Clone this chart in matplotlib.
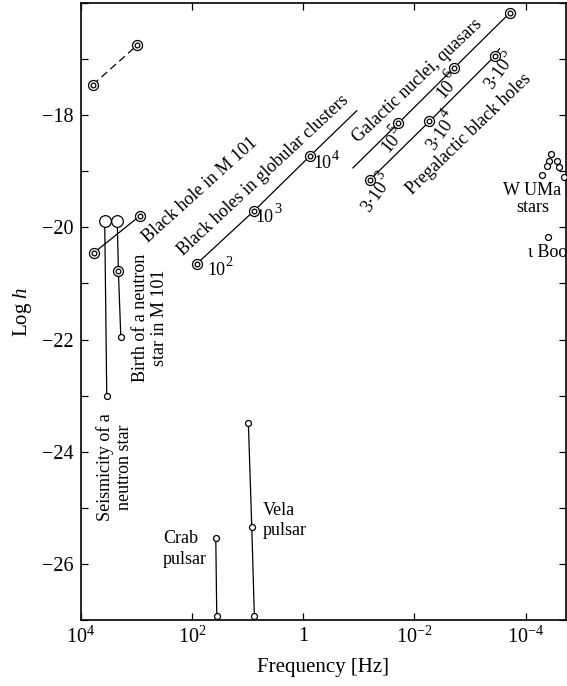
import math
import matplotlib
matplotlib.use("Agg")
import matplotlib.pyplot as plt
from matplotlib.ticker import FixedLocator, NullLocator, MultipleLocator
from matplotlib.textpath import TextPath
from matplotlib.font_manager import FontProperties

plt.rcParams["font.family"] = ["Liberation Serif", "DejaVu Serif"]
plt.rcParams["mathtext.fontset"] = "custom"
plt.rcParams["mathtext.rm"] = "Liberation Serif"
plt.rcParams["mathtext.it"] = "Liberation Serif:italic"
plt.rcParams["mathtext.default"] = "regular"

# ---- source data: frequency [Hz] and log10 of strain amplitude h ----
dashed_f = [6.1e3, 9.6e2]
dashed_h = [-17.46, -16.75]

m101_bh_f = [5.75e3, 8.5e2]
m101_bh_h = [-20.45, -19.79]

seismic_f = [3.7e3, 3.4e3]
seismic_h = [-19.88, -23.0]

birth_f = [2.2e3, 2.1e3, 1.9e3]
birth_h = [-19.88, -20.78, -21.95]

glob_f = [82.0, 7.55, 0.743]
glob_h = [-20.65, -19.70, -18.72]
glob_masses = [("10", "2"), ("10", "3"), ("10", "4")]
glob_tail_f = 0.109
glob_tail_h = -17.92

galnuc_f = [1.94e-2, 1.91e-3, 1.95e-4]
galnuc_h = [-18.14, -17.15, -16.18]
galnuc_masses = [("10", "5"), ("10", "6")]
galnuc_start_f = 0.128
galnuc_start_h = -18.94

pregal_f = [6.27e-2, 5.37e-3, 3.64e-4]
pregal_h = [-19.15, -18.11, -16.95]
pregal_masses = [("3·10", "3"), ("3·10", "4"), ("3·10", "5")]

crab_f = [37.3, 35.8]
crab_h = [-25.53, -26.93]

vela_f = [9.68, 8.41, 7.55]
vela_h = [-23.49, -25.34, -26.93]

wuma_f = [3.48e-5, 3.89e-5, 2.75e-5, 4.16e-5, 2.57e-5, 5.12e-5, 2.09e-5]
wuma_h = [-18.69, -18.81, -18.81, -18.90, -18.93, -19.07, -19.10]

iboo_f = [3.94e-5]
iboo_h = [-20.17]

x_ticks = [1e4, 1e2, 1.0, 1e-2, 1e-4]
x_tick_labels = ["$10^{4}$", "$10^{2}$", "1", "$10^{-2}$", "$10^{-4}$"]
y_ticks = [-18, -20, -22, -24, -26]

# ---- figure ----
fig = plt.figure(figsize=(5.67, 6.86), dpi=100)
ax = fig.add_axes([0.1423, 0.0962, 0.8557, 0.8994])
ax.set_xscale("log")
ax.set_xlim(1e4, 1.9e-5)
ax.set_ylim(-27, -16)

LW = 0.9
FS = 13
FONT = FontProperties(family="Liberation Serif")


def dbl(xs, ys):
    ax.plot(xs, ys, "o", ms=7.2, mfc="white", mec="black", mew=LW, zorder=4)
    ax.plot(xs, ys, "o", ms=3.4, mfc="white", mec="black", mew=LW, zorder=5)


def small(xs, ys, ms=4.3):
    ax.plot(xs, ys, "o", ms=ms, mfc="white", mec="black", mew=LW, zorder=4,
            clip_on=False)


def big(xs, ys):
    ax.plot(xs, ys, "o", ms=8.4, mfc="white", mec="black", mew=LW, zorder=4)


# dashed pair at top left
ax.plot(dashed_f, dashed_h, color="black", lw=LW, ls=(0, (6, 3.5)))
dbl(dashed_f, dashed_h)

# black hole in M 101
ax.plot(m101_bh_f, m101_bh_h, color="black", lw=LW)
dbl(m101_bh_f, m101_bh_h)

# seismicity of a neutron star
ax.plot(seismic_f, seismic_h, color="black", lw=LW)
big(seismic_f[:1], seismic_h[:1])
small(seismic_f[1:], seismic_h[1:])

# birth of a neutron star in M 101
ax.plot(birth_f, birth_h, color="black", lw=LW)
big(birth_f[:1], birth_h[:1])
dbl(birth_f[1:2], birth_h[1:2])
small(birth_f[2:], birth_h[2:])

# black holes in globular clusters
ax.plot(glob_f + [glob_tail_f], glob_h + [glob_tail_h], color="black", lw=LW)
dbl(glob_f, glob_h)

# galactic nuclei, quasars
ax.plot([galnuc_start_f] + galnuc_f, [galnuc_start_h] + galnuc_h,
        color="black", lw=LW)
dbl(galnuc_f, galnuc_h)

# pregalactic black holes
ax.plot(pregal_f, pregal_h, color="black", lw=LW)
dbl(pregal_f, pregal_h)

# pulsars
ax.plot(crab_f, crab_h, color="black", lw=LW)
small(crab_f, crab_h)
ax.plot(vela_f, vela_h, color="black", lw=LW)
small(vela_f, vela_h)

# W UMa stars and iota Boo
small(wuma_f, wuma_h)
small(iboo_f, iboo_h)


# ---- annotations ----
def label(x, y, s, rot=0.0, ha="center", va="center", size=FS, **kw):
    ax.text(x, y, s, rotation=rot, rotation_mode="anchor", ha=ha, va=va,
            fontsize=size, **kw)


def text_width(s, size):
    return TextPath((0, 0), s, size=size, prop=FONT).get_extents().width


def power_label(x, y, base, expo, rot=0.0, size=FS):
    """Base and raised exponent, centred as a whole on (x, y)."""
    esize = size * 0.8
    wb = text_width(base, size)
    we = text_width(expo, esize)
    gap = 0.8
    total = wb + gap + we
    c, s = math.cos(math.radians(rot)), math.sin(math.radians(rot))
    a = -total / 2 + wb / 2
    ax.annotate(base, (x, y), xytext=(a * c, a * s), textcoords="offset points",
                rotation=rot, rotation_mode="anchor", ha="center", va="center",
                fontsize=size)
    b = -total / 2 + wb + gap
    r = 0.42 * size
    ax.annotate(expo, (x, y), xytext=(b * c - r * s, b * s + r * c),
                textcoords="offset points", rotation=rot,
                rotation_mode="anchor", ha="left", va="center",
                fontsize=esize)


label(73, -19.34, "Black hole in M 101", rot=42)
label(5.2, -19.08, "Black holes in globular clusters", rot=43)
label(9.06e-3, -17.39, "Galactic nuclei, quasars", rot=43.5)
label(1.07e-3, -18.33, "Pregalactic black holes", rot=44)

for (x, y), (b, e) in zip([(31.3, -20.76), (4.23, -19.82), (0.377, -18.87)],
                          glob_masses):
    power_label(x, y, b, e)

for (x, y), (b, e) in zip([(0.0242, -18.45), (2.47e-3, -17.48)],
                          galnuc_masses):
    power_label(x, y, b, e, rot=50)

for (x, y), (b, e) in zip([(0.0474, -19.40), (3.21e-3, -18.29),
                           (2.88e-4, -17.21)], pregal_masses):
    power_label(x, y, b, e, rot=55)

label(2.47e3, -24.27, "Seismicity of a\nneutron star", rot=90,
      multialignment="center", linespacing=1.15)
label(568, -21.62, "Birth of a neutron\nstar in M 101", rot=90,
      multialignment="center", linespacing=1.15)
label(331, -25.74, "Crab\npulsar", ha="left", multialignment="left",
      linespacing=1.3)
label(5.25, -25.23, "Vela\npulsar", ha="left", multialignment="left",
      linespacing=1.25)
label(7.6e-5, -19.50, "W UMa\nstars", multialignment="center",
      linespacing=1.0)
label(4.1e-5, -20.44, "ι Boo")

# ---- axes styling ----
ax.xaxis.set_major_locator(FixedLocator(x_ticks))
ax.xaxis.set_minor_locator(NullLocator())
ax.set_xticklabels(x_tick_labels)
ax.yaxis.set_major_locator(FixedLocator(y_ticks))
ax.yaxis.set_minor_locator(MultipleLocator(1))
ax.tick_params(which="both", direction="in", top=True, right=True,
               length=5, width=0.9, labelsize=14.5, pad=5)
for sp in ax.spines.values():
    sp.set_linewidth(1.2)

ax.set_xlabel("Frequency [Hz]", fontsize=15, labelpad=7)
ax.set_ylabel("Log $\\mathit{h}$", fontsize=15, labelpad=6)

fig.savefig("out.png", dpi=100)
